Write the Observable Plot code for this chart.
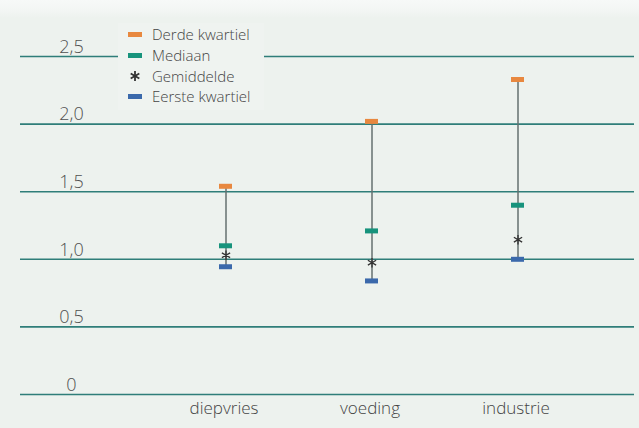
<!DOCTYPE html>
<html>
<head>
<meta charset="utf-8">
<script src="https://cdn.jsdelivr.net/npm/d3@7"></script>
<script src="https://cdn.jsdelivr.net/npm/@observablehq/plot@0.6"></script>
<style>
  html, body { margin: 0; padding: 0; background: #edf2ee; }
  #wrap { position: relative; width: 639px; height: 428px; font-family: "Open Sans", sans-serif; font-weight: 300;
          background: linear-gradient(to bottom, #f7f9f8 0px, #f3f6f4 10px, #edf2ee 18px); }
  #legend { position: absolute; left: 118px; top: 23px; width: 146px; background: #eff3f0; padding: 1px 0 3px 0; }
  .item { display: flex; align-items: center; height: 20.7px; font-size: 15px; color: #444; font-weight: 300; }
  .sw { width: 16px; margin-left: 9px; margin-right: 9px; display: flex; justify-content: center; align-items: center; }
  .bar { width: 14px; height: 5px; }
</style>
</head>
<body>
<div id="wrap"></div>
<script>
const categories = ["diepvries", "voeding", "industrie"];
const q3 = [1.54, 2.02, 2.33];
const median = [1.10, 1.21, 1.40];
const mean = [1.03, 0.975, 1.145];
const q1 = [0.945, 0.84, 1.0];
const yTicks = [0, 0.5, 1.0, 1.5, 2.0, 2.5];
const yTickLabels = ["0", "0,5", "1,0", "1,5", "2,0", "2,5"];
const legendLabels = ["Derde kwartiel", "Mediaan", "Gemiddelde", "Eerste kwartiel"];

const colors = { q3: "#e8883f", median: "#17937c", mean: "#333", q1: "#3b69ab" };

const rows = categories.map((c, i) => ({ cat: c, q1: q1[i], q3: q3[i], median: median[i], mean: mean[i] }));
const ticks = yTicks.map((v, i) => ({ v, label: yTickLabels[i] }));

const font = "Open Sans, sans-serif";

const plot = Plot.plot({
  width: 639,
  height: 428,
  marginLeft: 20,
  marginRight: 5,
  marginTop: 0,
  marginBottom: 0,
  style: { background: "transparent", fontFamily: font, fontWeight: 300 },
  x: { type: "band", domain: categories, range: [85, 658], padding: 0.911, axis: null },
  y: { domain: [0, 2.5], range: [394, 56], axis: null },
  marks: [
    Plot.ruleY(ticks, { y: "v", stroke: "#2f7e79", strokeWidth: 1.6 }),
    Plot.text(ticks, { y: "v", text: "label", frameAnchor: "left", dx: 51, dy: -9.5, textAnchor: "middle", fontSize: 18, fill: "#505050" }),
    Plot.ruleX(rows, { x: "cat", y1: "q1", y2: "q3", stroke: "#65716f", strokeWidth: 1.5 }),
    Plot.tickY(rows, { x: "cat", y: "q3", stroke: colors.q3, strokeWidth: 5 }),
    Plot.tickY(rows, { x: "cat", y: "median", stroke: colors.median, strokeWidth: 5 }),
    Plot.tickY(rows, { x: "cat", y: "q1", stroke: colors.q1, strokeWidth: 5 }),
    Plot.dot(rows, { x: "cat", y: "mean", symbol: "asterisk", r: 4.5, stroke: colors.mean, strokeWidth: 1.3 }),
    Plot.text(categories, { x: d => d, text: d => d, frameAnchor: "bottom", dx: -2, dy: -15, fontSize: 17, fill: "#444" })
  ]
});

const wrap = document.getElementById("wrap");
wrap.appendChild(plot);

const legend = document.createElement("div");
legend.id = "legend";
const swatches = [
  `<div class="bar" style="background:${colors.q3}"></div>`,
  `<div class="bar" style="background:${colors.median}"></div>`,
  `<svg width="14" height="14" viewBox="-7 -7 14 14"><g stroke="#333" stroke-width="1.8"><line x1="0" y1="-5" x2="0" y2="5"/><line x1="-4.3" y1="-2.5" x2="4.3" y2="2.5"/><line x1="-4.3" y1="2.5" x2="4.3" y2="-2.5"/></g></svg>`,
  `<div class="bar" style="background:${colors.q1}"></div>`
];
legend.innerHTML = legendLabels.map((l, i) => `<div class="item"><div class="sw">${swatches[i]}</div><span>${l}</span></div>`).join("");
wrap.appendChild(legend);
</script>
</body>
</html>
